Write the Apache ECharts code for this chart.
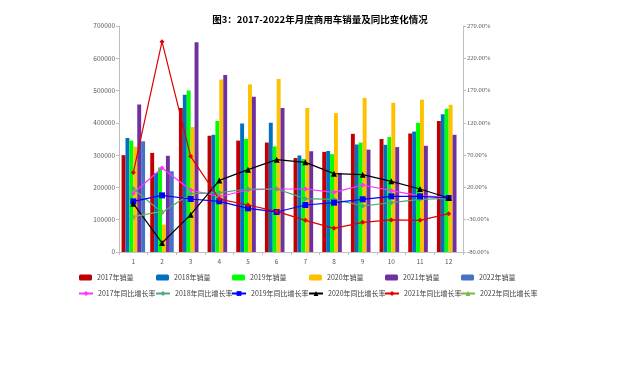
<!DOCTYPE html>
<html><head><meta charset="utf-8">
<script src="https://cdn.jsdelivr.net/npm/echarts@6/dist/echarts.min.js"></script>
<style>html,body{margin:0;padding:0;background:#fff}#c{width:640px;height:367px}</style>
</head><body><div id="c"></div>
<script>
const months = ['1','2','3','4','5','6','7','8','9','10','11','12'];
const leftTicks = [0,100000,200000,300000,400000,500000,600000,700000];
const rightTicks = [-80,-30,20,70,120,170,220,270];

const sales2017 = [300000,307000,446000,360000,345000,339000,291000,310000,366000,350000,367000,406000];
const sales2018 = [353000,245000,487000,363000,398000,400000,299000,313000,333000,332000,373000,427000];
const sales2019 = [345000,262000,500000,406000,350000,327000,288000,303000,339000,356000,400000,444000];
const sales2020 = [326000,85000,387000,534000,519000,536000,446000,430000,477000,462000,472000,456000];
const sales2021 = [457000,298000,650000,548000,481000,446000,312000,245000,317000,325000,329000,363000];
const sales2022 = [343000,250000,null,null,null,null,null,null,null,null,null,null];

const yoy2017 = [11,50,16,6,16,17.6,17.6,12.4,23.8,15,7,5];
const yoy2018 = [18,-18.7,10.3,11.9,17.6,17.6,2.6,1.6,-8.8,-3.6,1.6,3.1];
const yoy2019 = [-1.6,7.7,2.1,-1.5,-12.4,-18,-7.2,-3.6,1.6,6.2,6.2,3.6];
const yoy2020 = [-5.2,-66,-22.2,30.9,47.5,63,58.8,41.3,39.7,29.4,17.6,3.6];
const yoy2021 = [43.3,245.8,68.1,2,-7.2,-17,-31,-43.3,-34,-30.4,-31,-20.6];
const yoy2022 = [-25.3,-17,null,null,null,null,null,null,null,null,null,null];

const barNames = ['2017年销量','2018年销量','2019年销量','2020年销量','2021年销量','2022年销量'];
const barData = [sales2017,sales2018,sales2019,sales2020,sales2021,sales2022];
const barColors = ['#C00000','#0070C0','#00FF00','#FFC000','#7030A0','#4472C4'];
const lineNames = ['2017年同比增长率','2018年同比增长率','2019年同比增长率','2020年同比增长率','2021年同比增长率','2022年同比增长率'];
const lineData = [yoy2017,yoy2018,yoy2019,yoy2020,yoy2021,yoy2022];
const lineColors = ['#FF33FF','#4DA87A','#0000FF','#000000','#E00000','#7DB548'];
const lineSymbols = ['diamond','diamond','rect','triangle','diamond','triangle'];
const lineSymSize = [5,5,6,6,5,5];

const legendX = [79,156,232,309,385,461];
const font = '"Noto Sans CJK SC","Noto Sans",sans-serif';

const series = [];
barNames.forEach((n,i)=>series.push({
  name:n,type:'bar',yAxisIndex:0,data:barData[i],
  barGap:'0%',barCategoryGap:'18%',
  itemStyle:{color:barColors[i]},z:2
}));
lineNames.forEach((n,i)=>series.push({
  name:n,type:'line',yAxisIndex:1,data:lineData[i],
  symbol:lineSymbols[i],symbolSize:lineSymSize[i],showSymbol:true,
  lineStyle:{color:lineColors[i],width:1.2},
  itemStyle:{color:lineColors[i]},z:5,connectNulls:false
}));

const legends = [];
barNames.forEach((n,i)=>legends.push({
  data:[n],left:legendX[i],top:274,itemWidth:13,itemHeight:6,
  textStyle:{fontSize:7,color:'#404040',fontFamily:font},itemGap:0,padding:0
}));
lineNames.forEach((n,i)=>legends.push({
  data:[{name:n}],left:legendX[i]-1,top:290,itemWidth:14,itemHeight:6,
  textStyle:{fontSize:7,color:'#404040',fontFamily:font},itemGap:0,padding:0
}));

const chart = echarts.init(document.getElementById('c'),null,{renderer:'canvas'});
chart.setOption({
  animation:false,
  backgroundColor:'#fff',
  title:{text:'图3：2017-2022年月度商用车销量及同比变化情况',left:'center',top:10,
    textStyle:{fontSize:9.5,fontWeight:'bold',color:'#000',fontFamily:font}},
  legend:legends,
  grid:{left:119,right:177,top:26,bottom:115,containLabel:false},
  xAxis:{type:'category',data:months,boundaryGap:true,
    axisLine:{lineStyle:{color:'#BFBFBF'}},
    axisTick:{show:true,alignWithLabel:false,lineStyle:{color:'#BFBFBF'},length:3},
    axisLabel:{fontSize:6.5,color:'#595959',margin:6,fontFamily:font}},
  yAxis:[
    {type:'value',min:leftTicks[0],max:leftTicks[leftTicks.length-1],interval:100000,
     axisLine:{show:true,lineStyle:{color:'#BFBFBF'}},
     axisTick:{show:true,lineStyle:{color:'#BFBFBF'},length:3},
     splitLine:{show:false},
     axisLabel:{fontSize:6.5,color:'#595959',margin:4,fontFamily:font,formatter:v=>String(v)}},
    {type:'value',min:rightTicks[0],max:rightTicks[rightTicks.length-1],interval:50,
     position:'right',
     axisLine:{show:true,lineStyle:{color:'#BFBFBF'}},
     axisTick:{show:true,lineStyle:{color:'#BFBFBF'},length:3},
     splitLine:{show:false},
     axisLabel:{fontSize:6.5,color:'#595959',margin:4,fontFamily:'"Liberation Serif",serif',
       formatter:v=>v.toFixed(2)+'%'}}
  ],
  series:series
});
</script></body></html>
